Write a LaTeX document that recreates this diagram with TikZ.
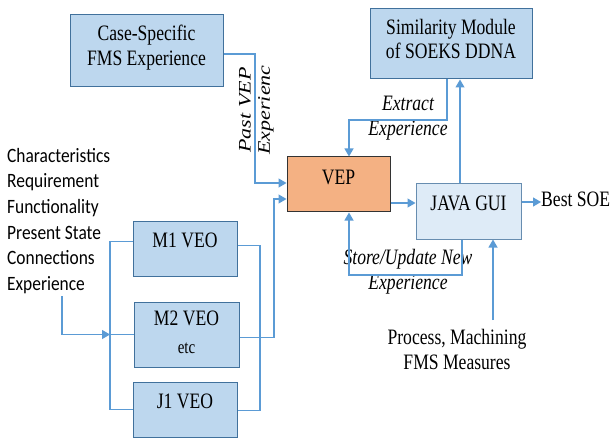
\documentclass[tikz,border=0pt]{standalone}
\usepackage{fontspec}
\setmainfont{Liberation Serif}
\newfontfamily\calib{Carlito}
\usetikzlibrary{arrows.meta}
\definecolor{boxfill}{HTML}{BDD7EE}
\definecolor{boxdraw}{HTML}{41719C}
\definecolor{guifill}{HTML}{DEEBF7}
\definecolor{vepfill}{HTML}{F4B183}
\definecolor{conncol}{HTML}{5B9BD5}
\newcommand\vst[2][0pt]{\raisebox{#1}[\height][\depth]{\scalebox{1}[1.25]{\begin{tabular}{@{}c@{}}#2\end{tabular}}}}
\newcommand\hst[1]{\scalebox{1.25}[1]{#1}}
\newcommand\lst[1]{\scalebox{1}[1.17]{\begin{tabular}{@{}l@{}}#1\end{tabular}}}
\begin{document}
\begin{tikzpicture}[x=1pt,y=-1pt,
  box/.style={draw=boxdraw, fill=boxfill, line width=1pt, inner sep=0pt,
    font=\fontsize{17.6}{19.5}\selectfont},
  lbl/.style={inner sep=0pt, font=\fontsize{17.6}{19.5}\selectfont\itshape},
  plain/.style={inner sep=0pt, font=\fontsize{17.6}{19.5}\selectfont},
  conn/.style={draw=conncol, line width=1.1pt},
  arr/.style={conn, -{Triangle[length=8pt,width=9pt]}}]
\fill[white] (0,0) rectangle (612,438);
\useasboundingbox (0,0) rectangle (612,438);

% boxes
\node[box, minimum width=153pt, minimum height=72pt] (case) at (146.5,51) {\vst[3pt]{Case-Specific\\FMS Experience}};
\node[box, minimum width=162pt, minimum height=70pt] (sim) at (451,44) {\vst[2.5pt]{Similarity Module\\of SOEKS DDNA}};
\node[box, fill=vepfill, draw=black!80, minimum width=103pt, minimum height=55pt] (vep) at (338.5,184.5) {\vst[4.5pt]{VEP}};
\node[box, fill=guifill, draw=boxdraw!80, minimum width=105pt, minimum height=55pt] (java) at (468.5,211.5) {\vst[6pt]{JAVA GUI}};
\node[box, minimum width=104pt, minimum height=55pt] (m1) at (185,248.5) {\vst[6pt]{M1 VEO}};
\node[box, minimum width=105pt, minimum height=65pt] (m2) at (186.5,334.5) {\scalebox{1}[1.25]{\begin{tabular}{@{}c@{}}M2 VEO\\[3pt]\fontsize{15}{18}\selectfont etc\end{tabular}}};
\node[box, minimum width=104pt, minimum height=55pt] (j1) at (185,409.5) {\vst[6pt]{J1 VEO}};

% texts
\node[inner sep=0pt, anchor=north west, font=\calib\fontsize{17.4}{21.9}\selectfont] (list) at (7,144)
  {\lst{Characteristics\\Requirement\\Functionality\\Present State\\Connections\\Experience}};
\node[plain, anchor=west] (best) at (541,202) {\vst{Best SOE}};
\node[plain] (proc) at (457,352) {\vst{Process, Machining\\FMS Measures}};
\node[lbl, rotate=90] (past) at (245,110) {\hst{Past VEP}};
\node[lbl, rotate=90] (pexp) at (266,110) {\hst{Experienc}};
\node[lbl] (extr) at (408,118) {\vst{Extract\\Experience}};
\node[lbl] (stor) at (408,272) {\vst{Store/Update New\\Experience}};

% coordinates
\coordinate (p1) at (255,183);
\coordinate (p2) at (274,199);
\coordinate (rb) at (260,330);
\coordinate (lb) at (110,330);
\coordinate (es) at (62,296);
\coordinate (ex) at (447,120);
\coordinate (vx) at (349,120);
\coordinate (jx) at (460,150);
\coordinate (vj) at (400,203);
\coordinate (su) at (462,275);
\coordinate (sv) at (349,275);
\coordinate (pr) at (493,320);

% connectors
\draw[arr] ([yshift=-3pt]case.east) -| (p1) -- (p1 -| vep.west);
\draw[arr] ([yshift=-3pt]m2.east) -| (p2) -- (p2 -| vep.west);
\draw[conn] ([yshift=3pt]m1.east) -| (rb) |- ([yshift=-1pt]j1.east);
\draw[conn] ([yshift=7pt]m1.west) -| (lb) |- (j1.west);
\draw[conn] (lb |- m2.west) -- (m2.west);
\draw[arr] (es) |- (lb |- m2.west);
\draw[arr] (ex |- sim.south) |- (vx) -- (vx |- vep.north);
\draw[arr] (jx |- java.north) -- (jx |- sim.south);
\draw[arr] (vj -| vep.east) -- (vj -| java.west);
\draw[arr] (su |- java.south) -- (su) -- (sv) -- (sv |- vep.south);
\draw[arr] (pr) -- (pr |- java.south);
\draw[arr] (best.west -| java.east) -- (best.west);
\end{tikzpicture}
\end{document}
